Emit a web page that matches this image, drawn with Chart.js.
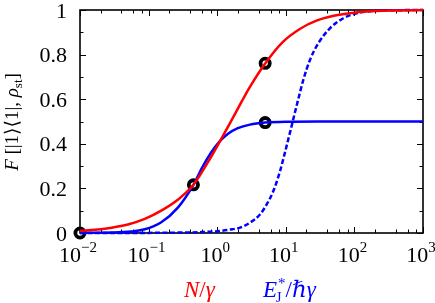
<!DOCTYPE html>
<html>
<head>
<meta charset="utf-8">
<script src="https://cdn.jsdelivr.net/npm/chart.js@4"></script>
<style>
  body { margin: 0; background: #fff; }
  #wrap { width: 435px; height: 303px; position: relative; }
</style>
</head>
<body>
<div id="wrap"><canvas id="chart"></canvas></div>
<script>
// === DATA ===
const redX  = [0.01, 0.013, 0.029, 0.05, 0.088, 0.153, 0.269, 0.45, 0.82, 1.44, 2.28, 3, 5, 9, 16, 28, 50, 100, 200, 500, 1000];
const redY  = [0.01, 0.012, 0.024, 0.038, 0.063, 0.1, 0.15, 0.216, 0.343, 0.477, 0.59, 0.655, 0.76, 0.856, 0.915, 0.952, 0.974, 0.988, 0.995, 0.998, 1.0];

const blueX = [0.01, 0.03, 0.088, 0.153, 0.269, 0.45, 0.6, 0.82, 1, 1.2, 1.44, 2, 3, 5, 10, 30, 1000];
const blueY = [0.0005, 0.002, 0.017, 0.048, 0.115, 0.216, 0.292, 0.362, 0.398, 0.424, 0.445, 0.47, 0.486, 0.495, 0.499, 0.5, 0.5];

const dashX = [0.01, 0.1, 0.3, 0.6, 1, 1.5, 2.15, 3, 4.2, 5.26, 6.58, 8.2, 9.7, 11.5, 13.2, 15.2, 18, 22.5, 29.8, 44, 69, 108, 188, 400, 1000];
const dashY = [0, 0.0005, 0.002, 0.004, 0.008, 0.015, 0.024, 0.046, 0.083, 0.128, 0.188, 0.275, 0.36, 0.45, 0.525, 0.6, 0.687, 0.776, 0.851, 0.918, 0.963, 0.985, 0.996, 0.999, 1.0];

const markX = [0.01, 0.45, 5, 5];
const markY = [0, 0.216, 0.761, 0.495];

const xMajorTicks = [0.01, 0.1, 1, 10, 100, 1000];
const xExponents  = ['\u22122', '\u22121', '0', '1', '2', '3'];
const xMinorSig   = [2, 4, 6, 8];
const yMajorTicks = [0, 0.2, 0.4, 0.6, 0.8, 1];
const yTickLabels = ['0', '0.2', '0.4', '0.6', '0.8', '1'];
const yMinorTicks = [0.1, 0.3, 0.5, 0.7, 0.9];

const pts = (xs, ys) => xs.map((x, i) => ({ x: x, y: ys[i] }));

const SERIF = '"Liberation Serif", "DejaVu Serif", serif';

// draw a run of [text, font, dy] pieces left to right
function runWidth(ctx, parts) {
  let w = 0;
  parts.forEach(p => { ctx.font = p[1]; w += ctx.measureText(p[0]).width; });
  return w;
}
function drawRun(ctx, parts, x, y) {
  parts.forEach(p => {
    ctx.font = p[1];
    ctx.fillText(p[0], x, y + (p[2] || 0));
    x += ctx.measureText(p[0]).width;
  });
  return x;
}

// === frame, inward ticks and labels ===
const axesPlugin = {
  id: 'axesPlugin',
  beforeDatasetsDraw(chart) {
    const { ctx, chartArea: a, scales } = chart;
    const xs = scales.x, ys = scales.y;
    ctx.save();
    ctx.strokeStyle = '#000';
    ctx.lineWidth = 1;
    ctx.beginPath();
    const xTick = (v, len) => {
      const px = Math.round(xs.getPixelForValue(v)) + 0.5;
      ctx.moveTo(px, a.bottom); ctx.lineTo(px, a.bottom - len);
      ctx.moveTo(px, a.top); ctx.lineTo(px, a.top + len);
    };
    const yTick = (v, len) => {
      const py = Math.round(ys.getPixelForValue(v)) + 0.5;
      ctx.moveTo(a.left, py); ctx.lineTo(a.left + len, py);
      ctx.moveTo(a.right, py); ctx.lineTo(a.right - len, py);
    };
    xMajorTicks.forEach((v, i) => {
      xTick(v, 6);
      if (i < xMajorTicks.length - 1) xMinorSig.forEach(s => xTick(v * s, 3.5));
    });
    yMajorTicks.forEach(v => yTick(v, 6));
    yMinorTicks.forEach(v => yTick(v, 3.5));
    ctx.stroke();
    ctx.lineWidth = 1.6;
    ctx.strokeRect(a.left, a.top, a.right - a.left, a.bottom - a.top);
    ctx.restore();
  },
  afterDraw(chart) {
    const { ctx, scales } = chart;
    const xs = scales.x, ys = scales.y;
    ctx.save();
    ctx.fillStyle = '#000';
    ctx.textBaseline = 'alphabetic';

    // y tick labels
    ctx.font = '22px ' + SERIF;
    ctx.textAlign = 'right';
    yMajorTicks.forEach((v, i) => {
      ctx.fillText(yTickLabels[i], 67, ys.getPixelForValue(v) + 7.5);
    });

    // x tick labels 10^n
    ctx.textAlign = 'left';
    xMajorTicks.forEach((v, i) => {
      const parts = [['10', '22px ' + SERIF, 0], [xExponents[i], '15px ' + SERIF, -10]];
      const w = runWidth(ctx, parts);
      drawRun(ctx, parts, xs.getPixelForValue(v) - w / 2 - 2, 262);
    });

    // x axis titles, two colours
    ctx.fillStyle = '#ff0000';
    drawRun(ctx, [['N', 'italic 23px ' + SERIF], ['/', '23px ' + SERIF], ['\u03b3', 'italic 23px ' + SERIF]], 184, 297);
    ctx.fillStyle = '#0000ff';
    let x = drawRun(ctx, [['E', 'italic 23px ' + SERIF]], 263, 297);
    ctx.font = '15px ' + SERIF;
    const ws = ctx.measureText('*').width;
    ctx.fillText('*', x + 1, 297 - 9);
    ctx.font = '14px ' + SERIF;
    const wj = ctx.measureText('J').width;
    ctx.fillText('J', x - 1, 297 + 5);
    x += Math.max(ws, wj) + 1;
    drawRun(ctx, [['/', '23px ' + SERIF], ['\u210f\u03b3', 'italic 23px ' + SERIF]], x, 297);

    // y axis title, rotated
    ctx.fillStyle = '#000';
    const yParts = [
      ['F', 'italic 19px ' + SERIF],
      [' [|1\u27e9\u27e81|, ', '19px ' + SERIF],
      ['\u03c1', 'italic 19px ' + SERIF],
      ['st', '13px ' + SERIF, 4],
      [']', '19px ' + SERIF]
    ];
    const tw = runWidth(ctx, yParts);
    ctx.translate(18, 122);
    ctx.rotate(-Math.PI / 2);
    drawRun(ctx, yParts, -tw / 2, 0);
    ctx.restore();
  }
};

const lineDs = (label, data, color, dash) => ({
  label: label,
  data: data,
  showLine: true,
  borderColor: color,
  borderWidth: 2.5,
  borderDash: dash,
  pointRadius: 0,
  cubicInterpolationMode: 'monotone',
  fill: false,
  clip: false
});

new Chart(document.getElementById('chart'), {
  type: 'scatter',
  data: {
    datasets: [
      lineDs('N/γ', pts(redX, redY), '#ff0000', []),
      lineDs('E*J/ħγ', pts(blueX, blueY), '#0000ff', []),
      lineDs('E*J/ħγ dashed', pts(dashX, dashY), '#0000ff', [5, 2.5]),
      {
        label: 'markers',
        data: pts(markX, markY),
        showLine: false,
        pointRadius: 4.6,
        pointBorderWidth: 3.8,
        pointBorderColor: '#000',
        pointBackgroundColor: 'rgba(0,0,0,0)',
        clip: false
      }
    ]
  },
  options: {
    responsive: true,
    maintainAspectRatio: false,
    animation: false,
    layout: { padding: { left: 80, right: 12, top: 10, bottom: 70 } },
    plugins: { legend: { display: false }, tooltip: { enabled: false } },
    scales: {
      x: { type: 'logarithmic', min: 0.01, max: 1000, display: false },
      y: { type: 'linear', min: 0, max: 1, display: false }
    }
  },
  plugins: [axesPlugin]
});
</script>
</body>
</html>
